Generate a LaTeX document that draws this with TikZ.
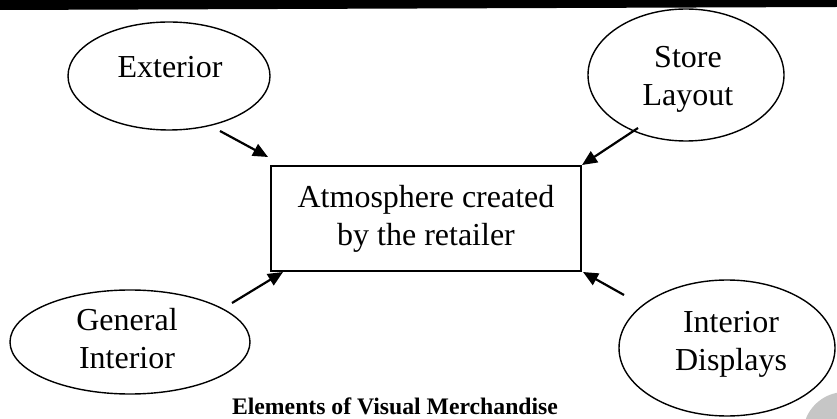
\documentclass[tikz,border=0pt]{standalone}
\usepackage{fontspec}
\setmainfont{Liberation Serif}
\usetikzlibrary{arrows.meta,shapes.geometric}
\begin{document}
\begin{tikzpicture}[x=1pt,y=-1pt,
  ell/.style={draw, ellipse, line width=1.4pt, inner sep=0pt},
  lbl/.style={font=\fontsize{32}{38}\selectfont, align=center, inner sep=0pt},
  arr/.style={line width=2.2pt, -{Triangle[length=15pt,width=13pt]}}]
\useasboundingbox (0,0) rectangle (837,419);
\fill[black] (0,0) -- (837,0) -- (837,7) -- (0,10) -- cycle;
\fill[gray!45] (845,434) circle[radius=42];
% ellipses
\node[ell, minimum width=202pt, minimum height=108pt] (ext) at (169,76) {};
\node[ell, minimum width=196pt, minimum height=132pt] (sl) at (686,75) {};
\node[ell, minimum width=240pt, minimum height=104pt] (gi) at (130,342) {};
\node[ell, minimum width=216pt, minimum height=136pt] (id) at (727,348) {};
% texts
\node[lbl] (extT) at (170,67) {Exterior};
\node[lbl] (slT) at (688,79) {Store\\Layout};
\node[lbl] (giT) at (127,338.5) {General\\Interior};
\node[lbl] (idT) at (731,344) {Interior\\Displays};
\node[lbl, draw, line width=1.8pt, minimum width=310pt, minimum height=105pt] (atm) at (426,218.5) {Atmosphere created\\by the retailer};
\node[font=\bfseries\fontsize{23.7}{28}\selectfont, anchor=base, inner sep=0pt] (cap) at (395,414) {Elements of Visual Merchandise};
% arrows
\coordinate (s1) at (220,131); \coordinate (t1) at (268,157);
\coordinate (s2) at (638,128); \coordinate (t2) at (582,165);
\coordinate (s3) at (232,303); \coordinate (t3) at (283,272);
\coordinate (s4) at (624,295); \coordinate (t4) at (583,272);
\draw[arr] (s1) -- (t1);
\draw[arr] (s2) -- (t2);
\draw[arr] (s3) -- (t3);
\draw[arr] (s4) -- (t4);
\end{tikzpicture}
\end{document}
